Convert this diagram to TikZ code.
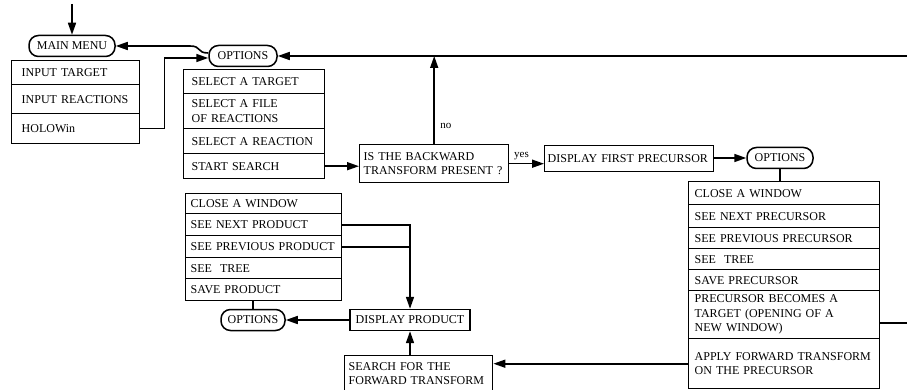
\documentclass[tikz,border=0pt]{standalone}
\usepackage{fontspec}
\setmainfont{Liberation Serif}
\usetikzlibrary{arrows.meta}

\begin{document}
\begin{tikzpicture}[
  x=1pt, y=-1pt,
  pill/.style={draw,line width=1.5pt,rounded corners=9.5pt,minimum height=21pt,inner xsep=6pt,inner ysep=0pt,font=\fontsize{12}{14}\selectfont},
  row/.style={draw,line width=1.4pt,anchor=north west,align=left,inner ysep=1pt,font=\fontsize{12}{14.5}\selectfont},
  mainrow/.style={row,inner xsep=10pt,text width=108pt},
  optrow/.style={row,inner xsep=8pt,text width=125pt},
  precrow/.style={row,inner xsep=6pt,text width=179pt},
  prodrow/.style={row,inner xsep=5pt,text width=146pt},
  link/.style={line width=1.6pt},
  arrow/.style={link,-{Triangle[length=12pt,width=8pt]}}
]
\useasboundingbox (0,0) rectangle (907,390);

% main menu
\node[pill,minimum width=86pt] (mm) at (72,46) {MAIN MENU};
\node[mainrow,minimum height=24pt] (m1) at (11,60) {INPUT TARGET};
\node[mainrow,minimum height=29pt] (m2) at (11,84) {INPUT REACTIONS};
\node[mainrow,minimum height=30pt] (m3) at (11,113) {HOLOWin};

% options of the target window
\node[pill,minimum width=68pt] (opt1) at (243,56) {OPTIONS};
\node[optrow,minimum height=24pt] (o1) at (183,69) {SELECT A TARGET};
\node[optrow,minimum height=35pt] (o2) at (183,93) {SELECT A FILE\\OF REACTIONS};
\node[optrow,minimum height=25pt] (o3) at (183,128) {SELECT A REACTION};
\node[optrow,minimum height=25pt] (o4) at (183,153) {START SEARCH};

\node[row,inner xsep=4pt,text width=141pt,minimum height=38pt] (dec) at (359,144) {IS THE BACKWARD\\TRANSFORM PRESENT ?};
\node[row,inner xsep=3pt,text width=163pt,minimum height=26pt] (dfp) at (544,145) {DISPLAY FIRST PRECURSOR};

% precursor options
\node[pill,minimum width=66pt] (opt3) at (780,158) {OPTIONS};
\node[precrow,minimum height=23pt] (p1) at (688,181) {CLOSE A WINDOW};
\node[precrow,minimum height=23pt] (p2) at (688,204) {SEE NEXT PRECURSOR};
\node[precrow,minimum height=21pt] (p3) at (688,227) {SEE PREVIOUS PRECURSOR};
\node[precrow,minimum height=21pt] (p4) at (688,248) {SEE~ TREE};
\node[precrow,minimum height=21pt] (p5) at (688,269) {SAVE PRECURSOR};
\node[precrow,minimum height=48pt] (p6) at (688,290) {PRECURSOR BECOMES A\\TARGET (OPENING OF A\\NEW WINDOW)};
\node[precrow,minimum height=50pt] (p7) at (688,338) {APPLY FORWARD TRANSFORM\\ON THE PRECURSOR};

% product options
\node[prodrow,minimum height=20pt] (q1) at (185,193) {CLOSE A WINDOW};
\node[prodrow,minimum height=22pt] (q2) at (185,213) {SEE NEXT PRODUCT};
\node[prodrow,minimum height=22pt] (q3) at (185,235) {SEE PREVIOUS PRODUCT};
\node[prodrow,minimum height=21pt] (q4) at (185,257) {SEE~ TREE};
\node[prodrow,minimum height=22pt] (q5) at (185,278) {SAVE PRODUCT};
\node[pill,minimum width=64pt] (opt2) at (253,320) {OPTIONS};
\node[row,anchor=center,minimum width=120pt,minimum height=21pt] (dp) at (410,320) {DISPLAY PRODUCT};
\node[row,inner xsep=4pt,text width=140pt,minimum height=36pt] (search) at (344,355) {SEARCH FOR THE\\FORWARD TRANSFORM};

\coordinate (entry) at (72,4);
\coordinate (back) at (190,46);
\coordinate (topR) at (907,56);
\coordinate (sideR) at (907,323);

\draw[arrow] (entry) -- (mm.north);
\draw[arrow] ([yshift=3pt]opt1.west) .. controls +(-12,0) and +(12,0) .. (back) -- (mm.east);
\draw[arrow] (m3.east) -- ++(24,0) |- ([yshift=-2pt]opt1.west);
\draw[arrow] (topR) -- (opt1.east);
\draw[arrow] (o4.east) -- (o4.east -| dec.west);
\draw[arrow] (dec.north) -- node[pos=0.2,right=2pt,font=\fontsize{11}{13}\selectfont]{no} (dec.north |- topR);
\draw[arrow] (dec.east) -- node[pos=0.35,above=0pt,font=\fontsize{11}{13}\selectfont]{yes} (dec.east -| dfp.west);
\draw[arrow] (dfp.east |- opt3.west) -- (opt3.west);
\draw[link] (opt3.south) -- (opt3.south |- p1.north);
\draw[link] (sideR -| p6.east) -- (sideR);
\draw[arrow] (p7.west) -- (p7.west -| search.east);
\draw[arrow] (dp.south |- search.north) -- (dp.south);
\draw[arrow] (dp.west) -- (opt2.east);
\draw[link] (opt2.north) -- (opt2.north |- q5.south);
\draw[arrow] (q2.east) -| (dp.north);
\draw[link] (q3.east) -- (q3.east -| dp.north);
\end{tikzpicture}
\end{document}
